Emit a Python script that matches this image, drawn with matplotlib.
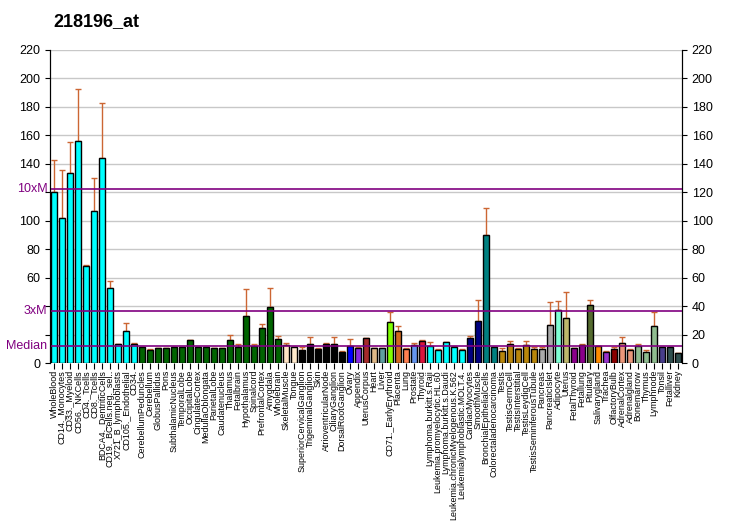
import matplotlib
matplotlib.use("Agg")
import matplotlib.pyplot as plt

plt.rcParams["font.family"] = ["Liberation Sans", "DejaVu Sans"]

title = "218196_at"

tissues = [
    "WholeBlood", "CD14._Monocytes", "CD33._Myeloid", "CD56._NKCells", "CD4._Tcells",
    "CD8._Tcells", "BDCA4._DentriticCells", "CD19._BCells.neg._sel..", "X721_B_lymphoblasts",
    "CD105._Endothelial", "CD34.", "CerebellumPeduncles", "Cerebellum", "GlobusPallidus",
    "Pons", "SubthalamicNucleus", "TemporalLobe", "OccipitalLobe", "CingulateCortex",
    "MedullaOblongata", "ParietalLobe", "Caudatenucleus", "Thalamus", "Fetalbrain",
    "Hypothalamus", "Spinalcord", "PrefrontalCortex", "Amygdala", "Wholebrain",
    "SkeletalMuscle", "Tongue", "SuperiorCervicalGanglion", "TrigeminalGanglion", "Skin",
    "AtrioventricularNode", "CiliaryGanglion", "DorsalRootGanglion", "Ovary", "Appendix",
    "UterusCorpus", "Heart", "Liver", "CD71._EarlyErythroid", "Placenta", "Lung",
    "Prostate", "Thyroid", "Lymphoma.burkitt.s.Raji", "Leukemia.promyelocytic.HL.60",
    "Lymphoma.burkitt.s.Daudi", "Leukemia.chronicMyelogenous.K.562",
    "Leukemialymphoblastic.MOLT.4.", "CardiacMyocytes", "SmoothMuscle",
    "BronchialEpithelialCells", "Colorectaladenocarcinoma", "Testis", "TestisGermCell",
    "TestisInterstitial", "TestisLeydigCell", "TestisSeminiferousTubule", "Pancreas",
    "PancreaticIslet", "Adipocyte", "Uterus", "FetalThyroid", "Fetallung", "Pituitary",
    "Salivarygland", "Trachea", "OlfactoryBulb", "AdrenalCortex", "Adrenalgland",
    "Bonemarrow", "Thymus", "Lymphnode", "Tonsil", "Fetalliver", "Kidney",
]

values = [
    120, 101.7, 133.3, 155.8, 68.2, 106.6, 143.9, 52.5, 13.4, 22.3,
    13.4, 11, 9.1, 10.3, 10.3, 11, 11, 15.9, 11, 11,
    10.3, 10.3, 16, 11, 32.8, 11.7, 24.4, 39.4, 16.6, 12.4,
    11, 9.1, 13.1, 10, 13.4, 13.4, 7.7, 11.7, 10.5, 17.3,
    10.3, 10.3, 28.8, 22.5, 9.8, 12.4, 15.5, 11.7, 9.1, 14.5,
    11, 9.1, 17.3, 29.5, 90, 11, 8.2, 13.1, 9.6, 12.4,
    9.6, 9.6, 26.5, 37, 31.4, 10.3, 12.4, 40.5, 11.7, 7.5,
    9.6, 13.8, 9.1, 11.7, 7.5, 25.8, 11, 11, 6.8,
]

errors = [
    22.5, 33.7, 21.7, 36.6, 0.8, 23.2, 38.6, 4.9, 0.3, 5.6,
    0.4, 0, 0.4, 0.4, 0, 0, 0, 0.5, 0, 0,
    0, 0, 3.4, 2.1, 19, 1.4, 2.8, 13.1, 2.1, 1.4,
    0, 1.9, 4.9, 0.5, 0.4, 4.6, 0.5, 4.9, 0.5, 0,
    0.5, 0, 6.8, 3.3, 0.7, 1.4, 0.6, 2.8, 0.7, 0,
    1.2, 0.7, 1.4, 14.5, 19, 0, 2.1, 2.1, 0.7, 2.8,
    1.4, 1.4, 16.2, 6.4, 18.3, 0, 0.7, 3.5, 0, 0.7,
    1.4, 4.2, 0.5, 1.4, 1.4, 9.8, 0, 0, 0,
]

colors = (
    ["#00FFFF"] * 11 + ["#006400"] * 18
    + ["#FFE4C4", "#FFEBCD"] + ["#000000"] * 6
    + ["#0000FF", "#8A2BE2", "#A52A2A", "#DEB887", "#5F9EA0", "#7FFF00",
       "#D2691E", "#FF7F50", "#6495ED", "#DC143C"]
    + ["#00FFFF"] * 5 + ["#000080"] * 2 + ["#008080"] * 2
    + ["#B8860B"] * 5 + ["#A9A9A9"] * 2
    + ["#7FFFD4", "#BDB76B", "#8B008B", "#8B008B", "#556B2F", "#FF8C00",
       "#9932CC", "#8B0000", "#E9967A", "#E9967A", "#8FBC8F", "#8FBC8F",
       "#8FBC8F", "#483D8B", "#2F4F4F", "#2F4F4F"]
)

median = 12.2
three_m = 36.6
ten_m = 122.2

fig = plt.figure(figsize=(7.32, 5.30), dpi=100)
ax = fig.add_axes([50 / 732, 167 / 530, 632 / 732, 313 / 530])

x = list(range(len(tissues)))
for yv in range(20, 221, 20):
    ax.axhline(yv, color="#C8C8C8", linewidth=1, zorder=0)

ax.bar(x, values, width=0.78, color=colors, edgecolor="black", linewidth=1, zorder=2)
ax.errorbar(x, values, yerr=[[0] * len(errors), errors], fmt="none",
            ecolor="#CC6633", elinewidth=1, capsize=2.5, capthick=1, zorder=1)

for yv in (median, three_m, ten_m):
    ax.axhline(yv, color="#800080", linewidth=1.2, zorder=3)

ax.set_xlim(-0.5, len(tissues) - 0.5)
ax.set_ylim(0, 220)
ax.set_xticks(x)
ax.set_xticklabels(tissues, rotation=90, fontsize=6.4)
ax.tick_params(axis="x", length=4, pad=1)

left_ticks = [0, 60, 80, 100, 140, 160, 180, 200, 220]
ax.set_yticks(list(range(0, 221, 20)))
ax.set_yticklabels(["" if t not in left_ticks else str(t) for t in range(0, 221, 20)],
                   fontsize=9)
for yv, lab in ((median, "Median"), (three_m, "3xM"), (ten_m, "10xM")):
    ax.text(-0.004, yv, lab, transform=ax.get_yaxis_transform(), color="#800080",
            fontsize=9, ha="right", va="center")

ax2 = ax.twinx()
ax2.set_ylim(0, 220)
ax2.set_yticks(list(range(0, 221, 20)))
ax2.tick_params(axis="y", labelsize=9)

for a in (ax, ax2):
    a.spines["top"].set_visible(False)
ax.spines["bottom"].set_visible(False)
ax2.spines["bottom"].set_visible(False)

fig.text(53 / 732, 1 - 22 / 530, title, fontsize=13, fontweight="bold",
         ha="left", va="center")

fig.savefig("out.png", dpi=100)
